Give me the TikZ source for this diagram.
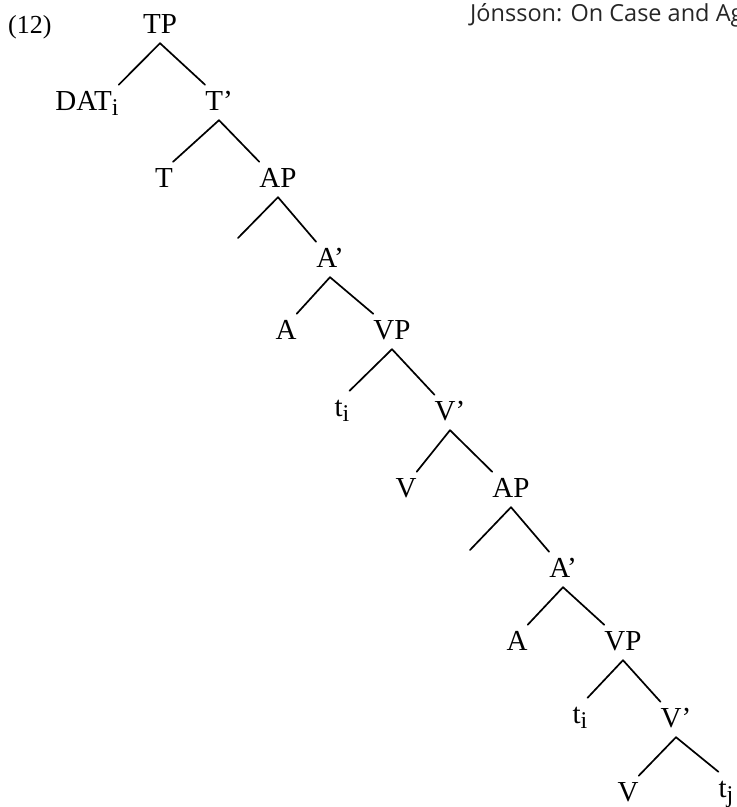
\documentclass[tikz,border=0pt]{standalone}
\usepackage{fontspec}
\setmainfont{Liberation Serif}
\newfontfamily\titlefont{Open Sans}
\newcommand{\lowsub}[1]{\raisebox{-5pt}{\fontsize{24}{28}\selectfont #1}}
\begin{document}
\begin{tikzpicture}[x=1pt,y=-1pt,
  lbl/.style={anchor=base,inner xsep=0pt,inner ysep=5pt,text height=20pt,text depth=5pt,
    font=\fontsize{29}{34}\selectfont},
  br/.style={line width=1.7pt,line cap=round}]
\useasboundingbox (0,0) rectangle (737,807);
\node[anchor=base west,inner sep=0pt,font=\titlefont\fontsize{23.5}{27}\selectfont,text=black!85] (title) at (470,21) {Jónsson: On Case and Ag};
\node[anchor=base west,inner sep=0pt,font=\fontsize{26}{30}\selectfont] (num) at (8,33) {(12)};
% nodes
\node[lbl] (TP) at (160,33) {TP};
\node[lbl] (DAT) at (87,110) {DAT\lowsub{i}};
\node[lbl] (T1) at (219,110) {T'};
\node[lbl] (T) at (164,187) {T};
\node[lbl] (AP1) at (278,187) {AP};
\node[lbl] (A1b) at (330,267) {A'};
\node[lbl] (A1) at (286,339) {A};
\node[lbl] (VP1) at (392,339) {VP};
\node[lbl] (ti1) at (342,416) {t\lowsub{i}};
\node[lbl] (V1b) at (450,420) {V'};
\node[lbl] (V1) at (406,497) {V};
\node[lbl] (AP2) at (511,497) {AP};
\node[lbl] (A2b) at (563,577) {A'};
\node[lbl] (A2) at (517,650) {A};
\node[lbl] (VP2) at (623,650) {VP};
\node[lbl] (ti2) at (580,723) {t\lowsub{i}};
\node[lbl] (V2b) at (676,727) {V'};
\node[lbl] (V2) at (628,801) {V};
\node[lbl] (tj) at (726,797) {t\lowsub{j}};
\coordinate (e1) at (238,238);
\coordinate (e2) at (470,550);
% branches
\draw[br] (TP.south) -- (DAT.north east);
\draw[br] (TP.south) -- (T1.north west);
\draw[br] (T1.south) -- (T.north east);
\draw[br] (T1.south) -- (AP1.north west);
\draw[br] (AP1.south) -- (e1);
\draw[br] (AP1.south) -- (A1b.north west);
\draw[br] (A1b.south) -- (A1.north east);
\draw[br] (A1b.south) -- (VP1.north west);
\draw[br] (VP1.south) -- (ti1.north east);
\draw[br] (VP1.south) -- (V1b.north west);
\draw[br] (V1b.south) -- (V1.north east);
\draw[br] (V1b.south) -- (AP2.north west);
\draw[br] (AP2.south) -- (e2);
\draw[br] (AP2.south) -- (A2b.north west);
\draw[br] (A2b.south) -- (A2.north east);
\draw[br] (A2b.south) -- (VP2.north west);
\draw[br] (VP2.south) -- (ti2.north east);
\draw[br] (VP2.south) -- (V2b.north west);
\draw[br] (V2b.south) -- (V2.north east);
\draw[br] (V2b.south) -- (tj.north west);
\end{tikzpicture}
\end{document}
